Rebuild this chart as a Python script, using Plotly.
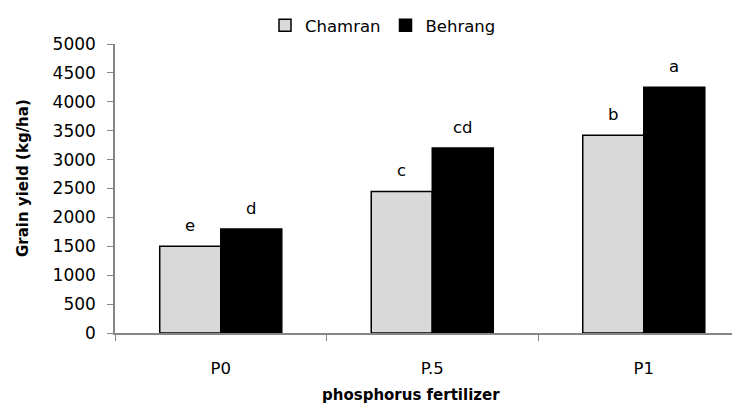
import plotly.graph_objects as go

categories = ["P0", "P.5", "P1"]
chamran = [1500, 2450, 3420]
behrang = [1800, 3200, 4250]
chamran_letters = ["e", "c", "b"]
behrang_letters = ["d", "cd", "a"]
y_ticks = [0, 500, 1000, 1500, 2000, 2500, 3000, 3500, 4000, 4500, 5000]

FONT = "DejaVu Sans"
FS = 16.5
OFF = 8  # page body margin of the html page
W, H = 740 - OFF, 407 - OFF
L, R, T, B = 115 - OFF, 0, 44 - OFF, 74
PW, PH = W - L - R, H - T - B

fig = go.Figure()
fig.add_trace(go.Bar(
    name="Chamran", x=categories, y=chamran,
    marker=dict(color="#d9d9d9", line=dict(color="black", width=1.5)),
))
fig.add_trace(go.Bar(
    name="Behrang", x=categories, y=behrang,
    marker=dict(color="black", line=dict(color="black", width=1.5)),
))

# letters above bars
for cat, v, lt in zip(categories, chamran, chamran_letters):
    fig.add_annotation(x=cat, y=v, text=lt, showarrow=False, xshift=-30.5,
                       yanchor="bottom", yshift=9, font=dict(size=FS, color="black", family=FONT))
for cat, v, lt in zip(categories, behrang, behrang_letters):
    fig.add_annotation(x=cat, y=v, text=lt, showarrow=False, xshift=30.5,
                       yanchor="bottom", yshift=9, font=dict(size=FS, color="black", family=FONT))

# axis titles (reference pixel positions, minus page offset)
fig.add_annotation(xref="paper", yref="paper", x=(411 - OFF - L) / PW, y=-(395 - OFF - (H - B)) / PH,
                   text="<b>phosphorus fertilizer</b>", showarrow=False,
                   xanchor="center", yanchor="middle", font=dict(size=15, color="black", family=FONT))
fig.add_annotation(xref="paper", yref="paper", x=-(L - (23 - OFF)) / PW, y=(H - B - (178 - OFF)) / PH,
                   text="<b>Grain yield (kg/ha)</b>", showarrow=False, textangle=-90,
                   xanchor="center", yanchor="middle", font=dict(size=15, color="black", family=FONT))

fig.update_layout(
    width=W, height=H,
    margin=dict(l=L, r=R, t=T, b=B, autoexpand=False),
    paper_bgcolor="white", plot_bgcolor="white",
    font=dict(family=FONT, size=FS, color="black"),
    barmode="group", bargap=0.423, bargroupgap=0,
    showlegend=True,
    legend=dict(orientation="h", xref="container", yref="container",
                x=375 / W, xanchor="center", y=1, yanchor="top",
                font=dict(size=FS, family=FONT), itemwidth=30, tracegroupgap=0),
    xaxis=dict(range=[-0.5, 2.455], showline=True, linecolor="#868686", linewidth=1.5,
               ticks="outside", tickson="boundaries", ticklen=6, tickcolor="#868686",
               showgrid=False, zeroline=False, tickfont=dict(size=FS), automargin=False,
               ticklabelstandoff=19),
    yaxis=dict(range=[0, 5000], tickvals=y_ticks, showline=True, linecolor="#868686",
               linewidth=1.5, ticks="outside", ticklen=6, tickcolor="#868686",
               showgrid=False, zeroline=False, tickfont=dict(size=17), ticklabelstandoff=8,
               automargin=False),
)

fig.write_html("out.html")
